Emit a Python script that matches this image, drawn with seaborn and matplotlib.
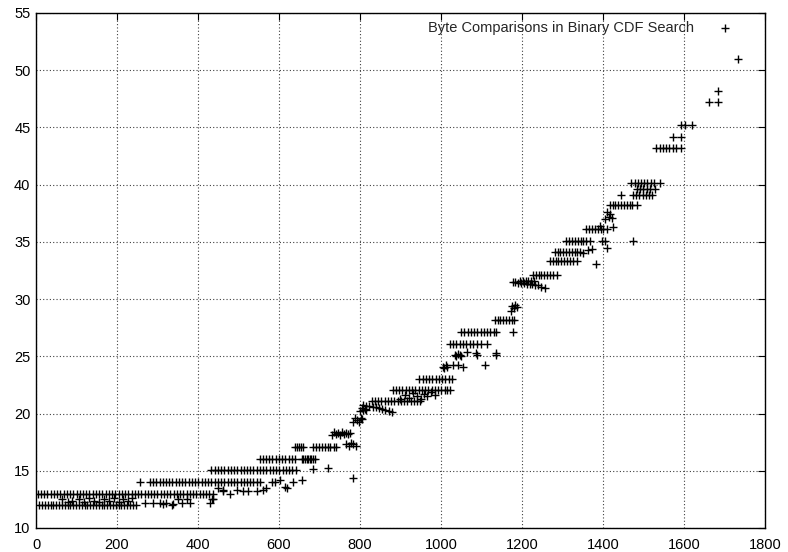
import matplotlib
matplotlib.use("Agg")
import matplotlib.pyplot as plt
import seaborn as sns
import pandas as pd

# x positions of the points that sit on one comparison count
x_at_12 = [8, 15, 22, 29, 36, 43, 50, 57, 64, 71, 78, 85, 92, 99, 106, 113, 120, 127,
           134, 141, 148, 155, 162, 169, 176, 183, 190, 197, 204, 211, 218, 225, 232, 239, 246]
x_at_13 = [4, 12, 20, 28, 36, 44, 52, 60, 68, 76, 84, 92, 100, 108, 116, 124, 132, 140,
           148, 156, 164, 172, 180, 188, 196, 204, 212, 220, 228, 236, 244, 252, 260, 268,
           276, 284, 292, 300, 308, 316, 324, 332, 340, 348, 356, 364, 372, 380, 388, 396,
           404, 412, 420, 428, 436]
x_at_14 = [256, 281, 289, 297, 305, 313, 321, 329, 337, 345, 353, 361, 369, 377, 385, 393,
           401, 409, 417, 425, 433, 441, 449, 457, 465, 473, 481, 489, 497, 505, 513, 521,
           529, 537, 545, 553, 582, 590, 635]
x_at_15 = [433, 441, 449, 457, 465, 473, 481, 489, 497, 505, 513, 521, 529, 537, 545, 553,
           561, 569, 577, 585, 593, 601, 609, 617, 625, 633, 641]
x_at_16 = [552, 560, 568, 576, 584, 592, 600, 608, 616, 624, 632, 640,
           656, 660, 664, 668, 672, 676, 680, 684, 689]
x_at_17 = [640, 645, 650, 655, 660, 685, 692, 699, 706, 713, 720, 727, 735, 742]
x_at_21 = [829, 837, 845, 853, 861, 869, 877, 885, 893, 901, 909, 917, 925, 933, 941, 948]
x_at_22 = [881, 889, 897, 905, 913, 921, 929, 937, 945, 953, 961, 969, 977, 985, 993,
           1001, 1009, 1016, 1022]
x_at_23 = [947, 955, 963, 971, 979, 987, 995, 1003, 1011, 1019, 1027]
x_at_26 = [1022, 1030, 1038, 1046, 1054, 1062, 1071, 1080, 1090, 1100, 1113]
x_at_27 = [1050, 1058, 1066, 1074, 1082, 1090, 1098, 1106, 1114, 1122, 1130, 1137, 1177]
x_at_28 = [1133, 1140, 1147, 1154, 1161, 1168, 1175, 1180]
x_at_32 = [1227, 1234, 1241, 1248, 1255, 1262, 1269, 1276, 1286]
x_at_33 = [1269, 1276, 1283, 1290, 1297, 1304, 1311, 1318, 1325, 1335]
x_at_34 = [1281, 1288, 1295, 1302, 1309, 1316, 1323, 1330, 1337, 1343]
x_at_35 = [1310, 1317, 1324, 1331, 1338, 1345, 1352, 1359, 1367, 1397, 1405, 1474]
x_at_36 = [1359, 1366, 1373, 1380, 1387, 1394, 1401, 1409]
x_at_38 = [1417, 1424, 1431, 1438, 1445, 1452, 1459, 1466, 1473, 1484]
x_at_39 = [1444, 1474, 1482, 1490, 1498, 1506, 1514, 1520]
x_at_40 = [1470, 1478, 1486, 1494, 1502, 1510, 1518, 1526, 1540]
x_at_43 = [1532, 1540, 1548, 1556, 1564, 1572, 1580, 1594]

row_levels = [12.0, 13.0, 14.05, 15.03, 16.05, 17.1, 21.1, 22.05, 23.0, 26.1, 27.1,
              28.2, 32.1, 33.3, 34.1, 35.1, 36.1, 38.2, 39.1, 40.1, 43.2]
row_xs = [x_at_12, x_at_13, x_at_14, x_at_15, x_at_16, x_at_17, x_at_21, x_at_22,
          x_at_23, x_at_26, x_at_27, x_at_28, x_at_32, x_at_33, x_at_34, x_at_35,
          x_at_36, x_at_38, x_at_39, x_at_40, x_at_43]

# points off those rows, read one by one
loose_x = [64, 78, 90, 105, 118, 130, 142, 155, 168, 180, 193, 205, 215, 227, 238,
           270, 290, 305, 313, 320, 335, 338, 351, 360, 372, 380, 429, 434, 437, 461,
           449, 462, 479, 496, 511, 523, 545, 560, 569, 619,
           602, 614, 657, 684, 720, 784,
           730, 735, 740, 745, 750, 755, 760, 765, 770, 775,
           766, 772, 778, 784, 790,
           782, 787, 792, 797, 802, 806,
           800, 804, 808, 812, 816,
           807, 815, 823, 831, 839, 847, 855, 863, 871, 879,
           900, 910, 920, 930, 940, 950, 958, 966, 975, 985,
           1004, 1008, 1012, 1016, 1029, 1041, 1054, 1108,
           1034, 1038, 1042, 1046, 1050, 1065, 1087, 1090, 1137, 1137,
           1172, 1176, 1180, 1184, 1188,
           1177, 1184, 1191, 1198, 1205, 1212, 1219, 1226, 1233, 1240, 1247, 1256,
           1195, 1202, 1209, 1216, 1223, 1230,
           1384, 1351, 1362, 1372, 1409, 1424, 1392,
           1404, 1409, 1414, 1418, 1422,
           1484, 1492, 1500, 1508, 1516, 1528,
           1572, 1594, 1594, 1602, 1621, 1663, 1685, 1685, 1734]
loose_y = [12.5, 12.3, 12.4, 12.5, 12.3, 12.6, 12.4, 12.3, 12.5, 12.4, 12.6, 12.3, 12.5, 12.4, 12.6,
           12.2, 12.2, 12.2, 12.1, 12.2, 12.0, 12.1, 12.5, 12.2, 12.5, 12.2, 12.2, 12.5, 12.5, 13.2,
           13.5, 13.3, 13.0, 13.3, 13.2, 13.2, 13.2, 13.3, 13.5, 13.5,
           14.15, 13.6, 14.2, 15.15, 15.2, 14.4,
           18.1, 18.4, 18.2, 18.3, 18.1, 18.4, 18.2, 18.3, 18.2, 18.3,
           17.3, 17.2, 17.4, 17.3, 17.2,
           19.3, 19.6, 19.4, 19.3, 19.6, 19.5,
           20.2, 20.5, 20.3, 20.4, 20.3,
           20.75, 20.7, 20.65, 20.6, 20.55, 20.5, 20.4, 20.3, 20.2, 20.1,
           21.3, 21.6, 21.4, 21.8, 21.5, 21.3, 21.7, 21.5, 21.9, 21.6,
           24.1, 24.0, 24.2, 24.1, 24.2, 24.2, 24.1, 24.2,
           25.1, 25.0, 25.2, 25.1, 25.0, 25.4, 25.3, 25.1, 25.3, 25.1,
           29.0, 29.4, 29.2, 29.5, 29.3,
           31.5, 31.5, 31.4, 31.4, 31.4, 31.3, 31.3, 31.3, 31.2, 31.2, 31.1, 31.0,
           31.6, 31.6, 31.6, 31.6, 31.6, 31.6,
           33.1, 34.0, 34.3, 34.4, 34.5, 36.3, 36.4,
           37.0, 37.6, 37.2, 37.4, 37.1,
           39.65, 39.65, 39.65, 39.65, 39.65, 39.65,
           44.2, 44.2, 45.2, 45.2, 45.2, 47.2, 47.2, 48.2, 51.0]

xs, ys = [], []
for level, xl in zip(row_levels, row_xs):
    xs += xl
    ys += [level] * len(xl)
xs += loose_x
ys += loose_y
df = pd.DataFrame({"n": xs, "bytes": ys})

sns.set_style("white")
plt.rcParams["font.family"] = ["Liberation Sans", "DejaVu Sans"]

fig = plt.figure(figsize=(7.88, 5.52), dpi=100)
ax = fig.add_axes([0.0457, 0.0435, 0.925, 0.933])

sns.scatterplot(data=df, x="n", y="bytes", marker="+", color="black", s=32,
                linewidth=1.0, ax=ax, label="Byte Comparisons in Binary CDF Search")

ax.set_xlim(0, 1800)
ax.set_ylim(10, 55)
ax.set_xticks(range(0, 1801, 200))
ax.set_yticks(range(10, 56, 5))
ax.set_xlabel("")
ax.set_ylabel("")
ax.grid(True, linestyle=(0, (1, 2)), color="0.25", linewidth=0.8)
ax.set_axisbelow(True)
for sp in ax.spines.values():
    sp.set_color("black")
    sp.set_linewidth(1.0)
ax.tick_params(direction="in", top=True, right=True, length=5, width=0.8,
               labelsize=10.5, colors="black")
ax.tick_params(axis="x", pad=7)
ax.tick_params(axis="y", pad=4)

ax.legend(loc="upper right", bbox_to_anchor=(0.9753, 0.996), frameon=False,
          markerfirst=False, fontsize=10.5, handlelength=2.2, handletextpad=1.0,
          borderaxespad=0.0)

fig.savefig("out.png", dpi=100)
